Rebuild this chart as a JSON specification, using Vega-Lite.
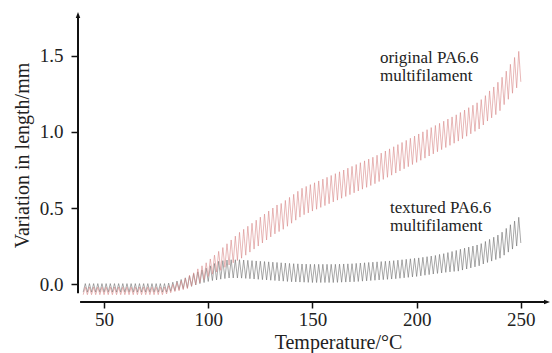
{
  "$schema": "https://vega.github.io/schema/vega-lite/v6.json",
  "width": 472,
  "height": 290,
  "autosize": "none",
  "padding": {"left": 78, "top": 12, "right": 2, "bottom": 51},
  "background": "white",
  "config": {"view": {"stroke": null}, "font": "Liberation Serif", "axis": {"labelFont": "Liberation Serif", "titleFont": "Liberation Serif"}, "text": {"font": "Liberation Serif"}},
  "datasets": {
    "curves": [
      {"t":40,"orig":-0.07,"tex":-0.053},{"t":41,"orig":-0.02,"tex":0.003},{"t":42,"orig":-0.07,"tex":-0.053},{"t":43,"orig":-0.02,"tex":0.003},{"t":44,"orig":-0.07,"tex":-0.053},{"t":45,"orig":-0.02,"tex":0.003},{"t":46,"orig":-0.07,"tex":-0.053},{"t":47,"orig":-0.02,"tex":0.003},{"t":48,"orig":-0.07,"tex":-0.053},{"t":49,"orig":-0.02,"tex":0.003},
      {"t":50,"orig":-0.07,"tex":-0.053},{"t":51,"orig":-0.02,"tex":0.003},{"t":52,"orig":-0.07,"tex":-0.053},{"t":53,"orig":-0.02,"tex":0.003},{"t":54,"orig":-0.07,"tex":-0.053},{"t":55,"orig":-0.02,"tex":0.003},{"t":56,"orig":-0.07,"tex":-0.053},{"t":57,"orig":-0.02,"tex":0.003},{"t":58,"orig":-0.07,"tex":-0.053},{"t":59,"orig":-0.02,"tex":0.003},
      {"t":60,"orig":-0.07,"tex":-0.053},{"t":61,"orig":-0.02,"tex":0.003},{"t":62,"orig":-0.07,"tex":-0.053},{"t":63,"orig":-0.02,"tex":0.003},{"t":64,"orig":-0.07,"tex":-0.053},{"t":65,"orig":-0.02,"tex":0.003},{"t":66,"orig":-0.07,"tex":-0.053},{"t":67,"orig":-0.02,"tex":0.003},{"t":68,"orig":-0.07,"tex":-0.053},{"t":69,"orig":-0.02,"tex":0.003},
      {"t":70,"orig":-0.07,"tex":-0.053},{"t":71,"orig":-0.02,"tex":0.003},{"t":72,"orig":-0.07,"tex":-0.053},{"t":73,"orig":-0.02,"tex":0.003},{"t":74,"orig":-0.07,"tex":-0.053},{"t":75,"orig":-0.02,"tex":0.003},{"t":76,"orig":-0.07,"tex":-0.053},{"t":77,"orig":-0.02,"tex":0.003},{"t":78,"orig":-0.07,"tex":-0.053},{"t":79,"orig":-0.02,"tex":0.003},
      {"t":80,"orig":-0.065,"tex":-0.053},{"t":81,"orig":-0.011,"tex":0.006},{"t":82,"orig":-0.057,"tex":-0.047},{"t":83,"orig":-0.003,"tex":0.012},{"t":84,"orig":-0.049,"tex":-0.043},{"t":85,"orig":0.01,"tex":0.02},{"t":86,"orig":-0.044,"tex":-0.036},{"t":87,"orig":0.022,"tex":0.03},{"t":88,"orig":-0.037,"tex":-0.03},{"t":89,"orig":0.039,"tex":0.041},
      {"t":90,"orig":-0.03,"tex":-0.025},{"t":91,"orig":0.058,"tex":0.053},{"t":92,"orig":-0.014,"tex":-0.015},{"t":93,"orig":0.074,"tex":0.068},{"t":94,"orig":-0.003,"tex":-0.006},{"t":95,"orig":0.1,"tex":0.08},{"t":96,"orig":0.01,"tex":0.003},{"t":97,"orig":0.12,"tex":0.092},{"t":98,"orig":0.03,"tex":0.01},{"t":99,"orig":0.14,"tex":0.105},
      {"t":100,"orig":0.05,"tex":0.017},{"t":101,"orig":0.165,"tex":0.12},{"t":102,"orig":0.065,"tex":0.023},{"t":103,"orig":0.19,"tex":0.135},{"t":104,"orig":0.08,"tex":0.027},{"t":105,"orig":0.215,"tex":0.15},{"t":106,"orig":0.09,"tex":0.032},{"t":107,"orig":0.24,"tex":0.154},{"t":108,"orig":0.11,"tex":0.036},{"t":109,"orig":0.265,"tex":0.158},
      {"t":110,"orig":0.125,"tex":0.04},{"t":111,"orig":0.29,"tex":0.16},{"t":112,"orig":0.14,"tex":0.04},{"t":113,"orig":0.315,"tex":0.16},{"t":114,"orig":0.155,"tex":0.04},{"t":115,"orig":0.34,"tex":0.16},{"t":116,"orig":0.17,"tex":0.039},{"t":117,"orig":0.36,"tex":0.158},{"t":118,"orig":0.19,"tex":0.037},{"t":119,"orig":0.38,"tex":0.156},
      {"t":120,"orig":0.21,"tex":0.035},{"t":121,"orig":0.4,"tex":0.154},{"t":122,"orig":0.23,"tex":0.033},{"t":123,"orig":0.42,"tex":0.152},{"t":124,"orig":0.25,"tex":0.031},{"t":125,"orig":0.44,"tex":0.15},{"t":126,"orig":0.27,"tex":0.029},{"t":127,"orig":0.46,"tex":0.148},{"t":128,"orig":0.29,"tex":0.027},{"t":129,"orig":0.48,"tex":0.146},
      {"t":130,"orig":0.31,"tex":0.025},{"t":131,"orig":0.5,"tex":0.144},{"t":132,"orig":0.33,"tex":0.023},{"t":133,"orig":0.52,"tex":0.142},{"t":134,"orig":0.345,"tex":0.021},{"t":135,"orig":0.53,"tex":0.14},{"t":136,"orig":0.36,"tex":0.019},{"t":137,"orig":0.55,"tex":0.138},{"t":138,"orig":0.38,"tex":0.017},{"t":139,"orig":0.57,"tex":0.136},
      {"t":140,"orig":0.4,"tex":0.015},{"t":141,"orig":0.59,"tex":0.134},{"t":142,"orig":0.42,"tex":0.014},{"t":143,"orig":0.61,"tex":0.133},{"t":144,"orig":0.44,"tex":0.013},{"t":145,"orig":0.63,"tex":0.132},{"t":146,"orig":0.456,"tex":0.012},{"t":147,"orig":0.642,"tex":0.131},{"t":148,"orig":0.468,"tex":0.011},{"t":149,"orig":0.654,"tex":0.13},
      {"t":150,"orig":0.48,"tex":0.01},{"t":151,"orig":0.666,"tex":0.13},{"t":152,"orig":0.492,"tex":0.01},{"t":153,"orig":0.678,"tex":0.13},{"t":154,"orig":0.504,"tex":0.01},{"t":155,"orig":0.69,"tex":0.13},{"t":156,"orig":0.516,"tex":0.01},{"t":157,"orig":0.702,"tex":0.13},{"t":158,"orig":0.528,"tex":0.01},{"t":159,"orig":0.714,"tex":0.13},
      {"t":160,"orig":0.54,"tex":0.01},{"t":161,"orig":0.726,"tex":0.13},{"t":162,"orig":0.552,"tex":0.011},{"t":163,"orig":0.738,"tex":0.131},{"t":164,"orig":0.564,"tex":0.012},{"t":165,"orig":0.75,"tex":0.132},{"t":166,"orig":0.576,"tex":0.013},{"t":167,"orig":0.762,"tex":0.133},{"t":168,"orig":0.588,"tex":0.014},{"t":169,"orig":0.774,"tex":0.134},
      {"t":170,"orig":0.6,"tex":0.015},{"t":171,"orig":0.786,"tex":0.136},{"t":172,"orig":0.612,"tex":0.017},{"t":173,"orig":0.798,"tex":0.138},{"t":174,"orig":0.624,"tex":0.019},{"t":175,"orig":0.81,"tex":0.14},{"t":176,"orig":0.636,"tex":0.021},{"t":177,"orig":0.822,"tex":0.142},{"t":178,"orig":0.648,"tex":0.023},{"t":179,"orig":0.834,"tex":0.144},
      {"t":180,"orig":0.66,"tex":0.025},{"t":181,"orig":0.847,"tex":0.146},{"t":182,"orig":0.674,"tex":0.027},{"t":183,"orig":0.861,"tex":0.148},{"t":184,"orig":0.688,"tex":0.029},{"t":185,"orig":0.875,"tex":0.15},{"t":186,"orig":0.702,"tex":0.031},{"t":187,"orig":0.889,"tex":0.152},{"t":188,"orig":0.716,"tex":0.033},{"t":189,"orig":0.903,"tex":0.154},
      {"t":190,"orig":0.73,"tex":0.035},{"t":191,"orig":0.917,"tex":0.157},{"t":192,"orig":0.744,"tex":0.038},{"t":193,"orig":0.931,"tex":0.16},{"t":194,"orig":0.758,"tex":0.041},{"t":195,"orig":0.945,"tex":0.163},{"t":196,"orig":0.772,"tex":0.044},{"t":197,"orig":0.959,"tex":0.166},{"t":198,"orig":0.786,"tex":0.047},{"t":199,"orig":0.973,"tex":0.169},
      {"t":200,"orig":0.8,"tex":0.05},{"t":201,"orig":0.987,"tex":0.172},{"t":202,"orig":0.814,"tex":0.054},{"t":203,"orig":1.001,"tex":0.176},{"t":204,"orig":0.828,"tex":0.058},{"t":205,"orig":1.015,"tex":0.18},{"t":206,"orig":0.842,"tex":0.062},{"t":207,"orig":1.029,"tex":0.184},{"t":208,"orig":0.856,"tex":0.066},{"t":209,"orig":1.043,"tex":0.188},
      {"t":210,"orig":0.87,"tex":0.07},{"t":211,"orig":1.057,"tex":0.195},{"t":212,"orig":0.884,"tex":0.073},{"t":213,"orig":1.071,"tex":0.2},{"t":214,"orig":0.898,"tex":0.077},{"t":215,"orig":1.085,"tex":0.207},{"t":216,"orig":0.912,"tex":0.08},{"t":217,"orig":1.099,"tex":0.214},{"t":218,"orig":0.926,"tex":0.083},{"t":219,"orig":1.113,"tex":0.221},
      {"t":220,"orig":0.94,"tex":0.085},{"t":221,"orig":1.128,"tex":0.229},{"t":222,"orig":0.956,"tex":0.092},{"t":223,"orig":1.144,"tex":0.236},{"t":224,"orig":0.972,"tex":0.099},{"t":225,"orig":1.16,"tex":0.243},{"t":226,"orig":0.988,"tex":0.106},{"t":227,"orig":1.176,"tex":0.25},{"t":228,"orig":1.004,"tex":0.113},{"t":229,"orig":1.192,"tex":0.257},
      {"t":230,"orig":1.02,"tex":0.12},{"t":231,"orig":1.213,"tex":0.266},{"t":232,"orig":1.046,"tex":0.132},{"t":233,"orig":1.239,"tex":0.28},{"t":234,"orig":1.072,"tex":0.142},{"t":235,"orig":1.27,"tex":0.294},{"t":236,"orig":1.093,"tex":0.151},{"t":237,"orig":1.296,"tex":0.308},{"t":238,"orig":1.114,"tex":0.161},{"t":239,"orig":1.327,"tex":0.322},
      {"t":240,"orig":1.14,"tex":0.17},{"t":241,"orig":1.36,"tex":0.341},{"t":242,"orig":1.18,"tex":0.19},{"t":243,"orig":1.4,"tex":0.366},{"t":244,"orig":1.215,"tex":0.21},{"t":245,"orig":1.445,"tex":0.39},{"t":246,"orig":1.255,"tex":0.23},{"t":247,"orig":1.49,"tex":0.414},{"t":248,"orig":1.29,"tex":0.25},{"t":249,"orig":1.53,"tex":0.439},
      {"t":250,"orig":1.33,"tex":0.27}
    ],
    "labels": [
      {"t": 182.4, "v": 1.454, "label": "original PA6.6\nmultifilament"},
      {"t": 187.2, "v": 0.467, "label": "textured PA6.6\nmultifilament"}
    ],
    "yaxisline": [{"t": 37.5, "v": -0.06, "v2": 1.75}],
    "xaxisline": [{"t": 38.5, "t2": 262, "v": -0.118}],
    "yarrow": [{"t": 37.5, "v": 1.789}],
    "xarrow": [{"t": 264, "v": -0.118}]
  },
  "layer": [
    {
      "data": {"name": "curves"},
      "mark": {"type": "line", "color": "#6e6e6e", "strokeWidth": 0.6},
      "encoding": {
        "x": {
          "field": "t", "type": "quantitative",
          "scale": {"domain": [37.5, 264], "nice": false, "zero": false},
          "axis": {
            "values": [50, 100, 150, 200, 250],
            "domain": false, "grid": false,
            "tickSize": 6, "tickWidth": 1.5, "tickColor": "#111",
            "labelFont": "Liberation Serif", "labelFontSize": 19, "labelColor": "#222", "labelPadding": 2,
            "title": "Temperature/°C",
            "titleFont": "Liberation Serif", "titleFontSize": 20, "titleFontWeight": "normal", "titleColor": "#222",
            "titleX": 260, "titleY": 46, "titleBaseline": "alphabetic", "titleAlign": "center"
          }
        },
        "y": {
          "field": "tex", "type": "quantitative",
          "scale": {"domain": [-0.118, 1.789], "nice": false, "zero": false},
          "axis": {
            "values": [0, 0.5, 1, 1.5],
            "format": ".1f",
            "domain": false, "grid": false,
            "tickSize": 7, "tickWidth": 1.5, "tickColor": "#111",
            "labelFont": "Liberation Serif", "labelFontSize": 19, "labelColor": "#222", "labelPadding": 8,
            "title": "Variation in length/mm",
            "titleFont": "Liberation Serif", "titleFontSize": 20, "titleFontWeight": "normal", "titleColor": "#222",
            "titleX": -56, "titleY": 143, "titleBaseline": "middle", "titleAlign": "center", "titleAngle": -90
          }
        }
      }
    },
    {
      "data": {"name": "curves"},
      "mark": {"type": "line", "color": "#d88888", "strokeWidth": 0.6},
      "encoding": {
        "x": {"field": "t", "type": "quantitative"},
        "y": {"field": "orig", "type": "quantitative"}
      }
    },
    {
      "data": {"name": "yaxisline"},
      "mark": {"type": "rule", "color": "#111", "strokeWidth": 2},
      "encoding": {
        "x": {"field": "t", "type": "quantitative"},
        "y": {"field": "v", "type": "quantitative"},
        "y2": {"field": "v2"}
      }
    },
    {
      "data": {"name": "xaxisline"},
      "mark": {"type": "rule", "color": "#111", "strokeWidth": 2},
      "encoding": {
        "x": {"field": "t", "type": "quantitative"},
        "x2": {"field": "t2"},
        "y": {"field": "v", "type": "quantitative"}
      }
    },
    {
      "data": {"name": "yarrow"},
      "mark": {"type": "point", "shape": "M0,0L-0.45,1.2L0.45,1.2Z", "filled": true, "color": "#111", "size": 100, "opacity": 1},
      "encoding": {
        "x": {"field": "t", "type": "quantitative"},
        "y": {"field": "v", "type": "quantitative"}
      }
    },
    {
      "data": {"name": "xarrow"},
      "mark": {"type": "point", "shape": "M0,0L-1.2,-0.45L-1.2,0.45Z", "filled": true, "color": "#111", "size": 100, "opacity": 1},
      "encoding": {
        "x": {"field": "t", "type": "quantitative"},
        "y": {"field": "v", "type": "quantitative"}
      }
    },
    {
      "data": {"name": "labels"},
      "mark": {"type": "text", "align": "left", "baseline": "alphabetic", "font": "Liberation Serif", "fontSize": 17, "color": "#222", "lineBreak": "\n", "lineHeight": 18},
      "encoding": {
        "x": {"field": "t", "type": "quantitative"},
        "y": {"field": "v", "type": "quantitative"},
        "text": {"field": "label"}
      }
    }
  ]
}
